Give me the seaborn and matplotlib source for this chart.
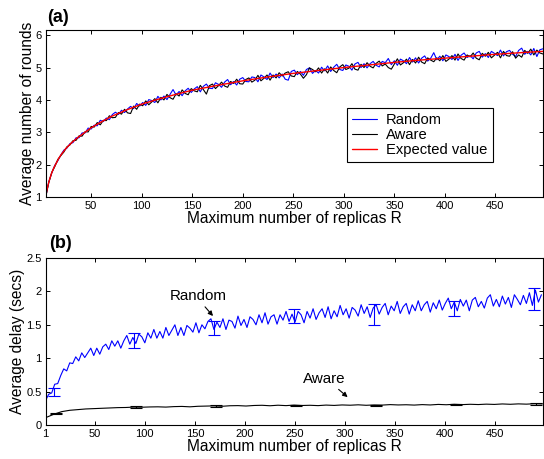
import numpy as np
import pandas as pd
import matplotlib
matplotlib.use("Agg")
import matplotlib.pyplot as plt
import seaborn as sns

# ---- panel (a): average number of rounds (sampled every 3 replicas) ----
r_top = np.arange(5, 498, 3)
rounds_random = [
    1.00, 1.46, 1.74, 1.98, 2.12, 2.30, 2.45, 2.51, 2.65, 2.68,
    2.83, 2.83, 2.98, 2.98, 3.13, 3.10, 3.22, 3.20, 3.37, 3.33,
    3.44, 3.39, 3.55, 3.62, 3.55, 3.68, 3.61, 3.72, 3.80, 3.73,
    3.89, 3.81, 3.92, 3.83, 4.01, 3.98, 3.92, 4.11, 4.00, 4.12,
    4.01, 4.17, 4.32, 4.15, 4.26, 4.13, 4.28, 4.36, 4.23, 4.34,
    4.41, 4.25, 4.42, 4.49, 4.36, 4.35, 4.53, 4.48, 4.39, 4.55,
    4.63, 4.47, 4.57, 4.46, 4.64, 4.69, 4.57, 4.56, 4.71, 4.69,
    4.56, 4.77, 4.71, 4.63, 4.83, 4.69, 4.80, 4.68, 4.80, 4.64,
    4.61, 4.88, 4.92, 4.78, 4.88, 4.76, 4.94, 4.99, 4.82, 4.91,
    4.83, 5.01, 4.90, 5.05, 4.88, 5.01, 5.10, 4.94, 4.91, 5.08,
    5.04, 4.92, 5.11, 5.16, 5.00, 5.12, 4.99, 5.12, 5.19, 5.07,
    5.02, 5.19, 5.15, 5.28, 5.09, 5.21, 5.07, 5.26, 5.21, 5.12,
    5.31, 5.17, 5.30, 5.14, 5.29, 5.36, 5.20, 5.29, 5.46, 5.24,
    5.35, 5.21, 5.39, 5.34, 5.25, 5.41, 5.22, 5.38, 5.45, 5.31,
    5.37, 5.27, 5.45, 5.50, 5.32, 5.43, 5.31, 5.50, 5.44, 5.37,
    5.54, 5.36, 5.49, 5.53, 5.41, 5.34, 5.53, 5.60, 5.41, 5.50,
    5.39, 5.59, 5.34, 5.55, 5.58,
]
rounds_aware = [
    1.00, 1.44, 1.76, 1.94, 2.16, 2.28, 2.39, 2.55, 2.61, 2.74,
    2.75, 2.89, 2.88, 3.02, 3.01, 3.18, 3.16, 3.30, 3.23, 3.37,
    3.36, 3.51, 3.45, 3.46, 3.61, 3.56, 3.71, 3.60, 3.58, 3.81,
    3.71, 3.87, 3.82, 3.97, 3.85, 3.94, 4.04, 3.91, 4.08, 4.00,
    4.17, 4.07, 4.02, 4.19, 4.12, 4.31, 4.20, 4.16, 4.35, 4.28,
    4.25, 4.45, 4.32, 4.18, 4.44, 4.49, 4.35, 4.44, 4.55, 4.43,
    4.39, 4.57, 4.51, 4.64, 4.50, 4.49, 4.63, 4.68, 4.55, 4.61,
    4.76, 4.59, 4.67, 4.77, 4.61, 4.77, 4.68, 4.84, 4.74, 4.83,
    4.87, 4.74, 4.72, 4.88, 4.80, 4.67, 4.78, 4.99, 4.94, 4.87,
    4.99, 4.83, 4.96, 4.83, 5.02, 4.91, 4.84, 5.02, 5.09, 4.94,
    4.98, 5.12, 4.95, 4.92, 5.10, 5.00, 5.15, 5.04, 4.99, 5.13,
    5.20, 5.05, 5.11, 5.00, 4.95, 5.11, 5.27, 5.08, 5.15, 5.26,
    5.09, 5.25, 5.14, 5.32, 5.17, 5.12, 5.30, 5.23, 5.18, 5.30,
    5.21, 5.37, 5.19, 5.26, 5.37, 5.23, 5.42, 5.28, 5.23, 5.39,
    5.33, 5.45, 5.29, 5.24, 5.44, 5.35, 5.47, 5.30, 5.38, 5.47,
    5.30, 5.50, 5.37, 5.35, 5.49, 5.29, 5.39, 5.32, 5.53, 5.44,
    5.57, 5.39, 5.54, 5.45, 5.42,
]
r_expected = [5, 6, 7, 8, 9, 11, 13, 15, 18, 21, 25, 30, 36, 43, 50, 60, 70, 85,
              100, 115, 130, 150, 175, 200, 225, 250, 275, 300, 325, 350, 375,
              400, 425, 450, 475, 497]
rounds_expected = [1.00, 1.18, 1.32, 1.45, 1.56, 1.75, 1.90, 2.02, 2.20, 2.34, 2.50,
                   2.66, 2.82, 2.98, 3.14, 3.32, 3.49, 3.69, 3.87, 4.01, 4.14, 4.30,
                   4.45, 4.59, 4.71, 4.82, 4.91, 5.00, 5.08, 5.16, 5.23, 5.29, 5.35,
                   5.41, 5.46, 5.50]

# ---- panel (b): average delay ----
r_bot = np.arange(1, 497, 3)
delay_random = [
    0.37, 0.46, 0.48, 0.61, 0.62, 0.74, 0.84, 0.81, 0.93, 0.92,
    1.02, 0.96, 1.08, 1.01, 1.08, 1.15, 1.04, 1.15, 1.06, 1.17,
    1.21, 1.13, 1.26, 1.18, 1.26, 1.15, 1.26, 1.34, 1.21, 1.31,
    1.22, 1.36, 1.32, 1.23, 1.38, 1.30, 1.43, 1.30, 1.40, 1.30,
    1.46, 1.34, 1.42, 1.50, 1.34, 1.46, 1.34, 1.49, 1.45, 1.39,
    1.53, 1.38, 1.50, 1.44, 1.55, 1.59, 1.43, 1.54, 1.46, 1.59,
    1.43, 1.57, 1.55, 1.45, 1.63, 1.49, 1.58, 1.46, 1.62, 1.58,
    1.50, 1.65, 1.53, 1.68, 1.51, 1.62, 1.65, 1.51, 1.65, 1.57,
    1.70, 1.55, 1.66, 1.54, 1.70, 1.65, 1.53, 1.70, 1.60, 1.74,
    1.58, 1.68, 1.74, 1.61, 1.77, 1.59, 1.71, 1.62, 1.79, 1.65,
    1.74, 1.60, 1.76, 1.72, 1.63, 1.80, 1.67, 1.77, 1.61, 1.75,
    1.80, 1.66, 1.76, 1.82, 1.65, 1.78, 1.71, 1.85, 1.67, 1.77,
    1.82, 1.66, 1.80, 1.71, 1.86, 1.71, 1.80, 1.85, 1.69, 1.83,
    1.74, 1.87, 1.72, 1.82, 1.90, 1.74, 1.84, 1.71, 1.88, 1.78,
    1.87, 1.71, 1.87, 1.91, 1.77, 1.85, 1.75, 1.90, 1.95, 1.78,
    1.88, 1.77, 1.93, 1.81, 1.91, 1.76, 1.95, 1.88, 1.80, 1.94,
    1.82, 1.98, 1.79, 2.02, 1.84, 1.95,
]
r_aware = np.arange(1, 498, 8)
delay_aware = [
    0.11, 0.16, 0.20, 0.22, 0.23, 0.24, 0.245, 0.25, 0.255, 0.26,
    0.262, 0.268, 0.266, 0.27, 0.272, 0.268, 0.275, 0.278, 0.272, 0.28,
    0.283, 0.286, 0.28, 0.288, 0.29, 0.284, 0.292, 0.295, 0.288, 0.296,
    0.29, 0.298, 0.292, 0.295, 0.29, 0.298, 0.293, 0.30, 0.296, 0.302,
    0.295, 0.30, 0.298, 0.305, 0.30, 0.303, 0.298, 0.305, 0.30, 0.308,
    0.303, 0.31, 0.305, 0.31, 0.306, 0.312, 0.308, 0.315, 0.31, 0.316,
    0.312, 0.318, 0.315,
]
err_r_random = [9, 89, 169, 249, 329, 409, 489]
err_mean_random = [0.495, 1.26, 1.445, 1.625, 1.655, 1.74, 1.885]
err_half_random = [0.055, 0.11, 0.105, 0.105, 0.155, 0.11, 0.165]
err_r_aware = [11, 91, 171, 251, 331, 411, 491]
err_mean_aware = [0.17, 0.268, 0.285, 0.292, 0.292, 0.305, 0.312]
err_half_aware = [0.012, 0.01, 0.01, 0.01, 0.01, 0.01, 0.01]

sns.set_theme(style="ticks")
plt.rcParams["font.family"] = ["Liberation Sans", "DejaVu Sans"]
plt.rcParams.update({
    "text.color": "black", "axes.labelcolor": "black",
    "xtick.direction": "in", "ytick.direction": "in",
    "xtick.top": True, "ytick.right": True,
    "xtick.major.size": 3.2, "ytick.major.size": 3.2,
    "xtick.major.width": 0.7, "ytick.major.width": 0.7,
    "axes.linewidth": 0.8, "axes.edgecolor": "black",
    "xtick.color": "black", "ytick.color": "black",
    "xtick.labelsize": 8, "ytick.labelsize": 8,
    "xtick.major.pad": 3, "ytick.major.pad": 3,
})

fig = plt.figure(figsize=(5.44, 4.59), dpi=100)
ax1 = fig.add_axes([0.084, 0.5708, 0.914, 0.3638])
ax2 = fig.add_axes([0.084, 0.0741, 0.914, 0.3638])

top_df = pd.DataFrame({"R": r_top, "Random": rounds_random, "Aware": rounds_aware})
exp_df = pd.DataFrame({"R": r_expected, "Expected value": rounds_expected})

sns.lineplot(data=top_df, x="R", y="Random", color="#0000ff", lw=0.8,
             ax=ax1, label="Random", estimator=None, sort=False)
sns.lineplot(data=top_df, x="R", y="Aware", color="black", lw=0.8,
             ax=ax1, label="Aware", estimator=None, sort=False)
sns.lineplot(data=exp_df, x="R", y="Expected value", color="#ff0000", lw=1.0,
             ax=ax1, label="Expected value", estimator=None, sort=False)

ax1.set_xlim(5, 497)
ax1.set_ylim(1, 6.16)
ax1.set_xticks(range(50, 451, 50))
ax1.set_yticks(range(1, 7))
ax1.set_xlabel("Maximum number of replicas R", fontsize=11.2)
ax1.set_ylabel("Average number of rounds", fontsize=11.2)
ax1.xaxis.set_label_coords(0.5, -0.082)
ax1.yaxis.set_label_coords(-0.022, 0.5)
leg = ax1.legend(loc="upper left", bbox_to_anchor=(0.606, 0.535), borderaxespad=0,
                 fontsize=10.6, frameon=True, fancybox=False, framealpha=1,
                 edgecolor="black", handlelength=1.7, handletextpad=0.6,
                 labelspacing=0.08, borderpad=0.35)
leg.get_frame().set_linewidth(0.8)

bot_df = pd.DataFrame({"R": r_bot, "delay": delay_random})
aw_df = pd.DataFrame({"R": r_aware, "delay": delay_aware})
sns.lineplot(data=bot_df, x="R", y="delay", color="#0000ff", lw=0.8,
             ax=ax2, estimator=None, sort=False)
sns.lineplot(data=aw_df, x="R", y="delay", color="black", lw=0.8,
             ax=ax2, estimator=None, sort=False)
ax2.errorbar(err_r_random, err_mean_random, yerr=err_half_random, fmt="none",
             ecolor="#0000ff", elinewidth=0.8, capsize=4, capthick=0.8)
ax2.errorbar(err_r_aware, err_mean_aware, yerr=err_half_aware, fmt="none",
             ecolor="black", elinewidth=0.8, capsize=4, capthick=0.8)

ax2.set_xlim(1, 497.5)
ax2.set_ylim(0, 2.5)
ax2.set_xticks([1, 50, 100, 150, 200, 250, 300, 350, 400, 450])
ax2.set_yticks([0, 0.5, 1, 1.5, 2, 2.5])
ax2.set_yticklabels(["0", "0.5", "1", "1.5", "2", "2.5"])
ax2.set_xlabel("Maximum number of replicas R", fontsize=11.2)
ax2.set_ylabel("Average delay (secs)", fontsize=11.2)
ax2.xaxis.set_label_coords(0.5, -0.085)
ax2.yaxis.set_label_coords(-0.042, 0.5)

ax2.text(153.7, 1.93, "Random", fontsize=10.9, ha="center", va="center")
ax2.annotate("", xy=(169.9, 1.60), xytext=(158.3, 1.80),
             arrowprops=dict(arrowstyle="-|>", color="black", lw=0.8, mutation_scale=7))
ax2.text(279.4, 0.69, "Aware", fontsize=10.9, ha="center", va="center")
ax2.annotate("", xy=(304.6, 0.39), xytext=(291.4, 0.56),
             arrowprops=dict(arrowstyle="-|>", color="black", lw=0.8, mutation_scale=7))

for ax in (ax1, ax2):
    for s in ax.spines.values():
        s.set_visible(True)
        s.set_color("black")

fig.text(47.5 / 544, 1 - 22 / 459, "(a)", fontsize=13, fontweight="bold", va="baseline")
fig.text(49 / 544, 1 - 248 / 459, "(b)", fontsize=13, fontweight="bold", va="baseline")

fig.savefig("out.png", dpi=100)
